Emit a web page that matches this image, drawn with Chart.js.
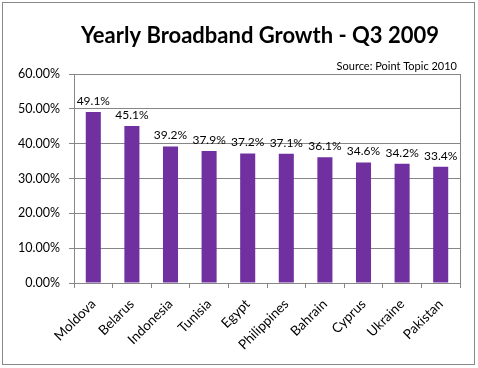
<!DOCTYPE html>
<html>
<head>
<meta charset="utf-8">
<script src="https://cdn.jsdelivr.net/npm/chart.js@4"></script>
<style>
  body { margin: 0; background: #fff; }
  #wrap { width: 478px; height: 368px; position: relative; }
</style>
</head>
<body>
<div id="wrap"><canvas id="chart" width="478" height="368"></canvas></div>
<script>
const countries = ['Moldova', 'Belarus', 'Indonesia', 'Tunisia', 'Egypt', 'Philippines', 'Bahrain', 'Cyprus', 'Ukraine', 'Pakistan'];
const growth = [49.1, 45.1, 39.2, 37.9, 37.2, 37.1, 36.1, 34.6, 34.2, 33.4];
const titleText = 'Yearly Broadband Growth - Q3 2009';
const sourceText = 'Source: Point Topic 2010';
const fontFamily = 'Lato, "Open Sans", sans-serif';

// draws the outer frame, title, source line, plot box and value labels
const decorations = {
    id: 'decorations',
    beforeDraw(chart) {
        const ctx = chart.ctx;
        ctx.save();
        ctx.fillStyle = '#fff';
        ctx.fillRect(0, 0, chart.width, chart.height);
        ctx.strokeStyle = '#888';
        ctx.lineWidth = 1;
        ctx.strokeRect(2.5, 2.5, 472, 362);
        ctx.restore();
    },
    afterDraw(chart) {
        const ctx = chart.ctx;
        const area = chart.chartArea;
        ctx.save();
        ctx.strokeStyle = '#868686';
        ctx.lineWidth = 1;
        ctx.strokeRect(Math.round(area.left) + 0.5, Math.round(area.top) + 0.5,
            Math.round(area.right - area.left), Math.round(area.bottom - area.top));

        ctx.fillStyle = '#000';
        ctx.font = 'bold 22px ' + fontFamily;
        ctx.textAlign = 'center';
        ctx.textBaseline = 'middle';
        ctx.fillText(titleText, 260, 36);

        ctx.font = '11px ' + fontFamily;
        ctx.textAlign = 'right';
        ctx.fillText(sourceText, 457, 66);

        ctx.font = '12px ' + fontFamily;
        ctx.textAlign = 'center';
        ctx.textBaseline = 'bottom';
        const meta = chart.getDatasetMeta(0);
        meta.data.forEach((bar, i) => {
            ctx.fillText(growth[i].toFixed(1) + '%', bar.x, bar.y - 5);
        });
        ctx.restore();
    }
};

new Chart(document.getElementById('chart'), {
    type: 'bar',
    data: {
        labels: countries,
        datasets: [{
            data: growth,
            backgroundColor: '#7030A0',
            barPercentage: 0.39,
            categoryPercentage: 1
        }]
    },
    options: {
        responsive: false,
        animation: false,
        layout: { padding: { left: 0, top: 74, right: 18, bottom: 0 } },
        plugins: {
            legend: { display: false },
            tooltip: { enabled: false }
        },
        scales: {
            x: {
                afterFit(scale) { scale.height = 85; },
                grid: {
                    offset: true,
                    drawOnChartArea: false,
                    tickLength: 5,
                    color: '#868686'
                },
                border: { color: '#868686' },
                ticks: {
                    color: '#000',
                    font: { family: fontFamily, size: 13.5 },
                    minRotation: 45,
                    maxRotation: 45,
                    padding: 8
                }
            },
            y: {
                min: 0,
                max: 60,
                afterFit(scale) { scale.width = 74; },
                grid: { color: '#868686', tickLength: 5 },
                border: { color: '#868686' },
                ticks: {
                    stepSize: 10,
                    color: '#000',
                    padding: 9,
                    font: { family: fontFamily, size: 12.5 },
                    callback: v => v.toFixed(2) + '%'
                }
            }
        }
    },
    plugins: [decorations]
});
</script>
</body>
</html>
